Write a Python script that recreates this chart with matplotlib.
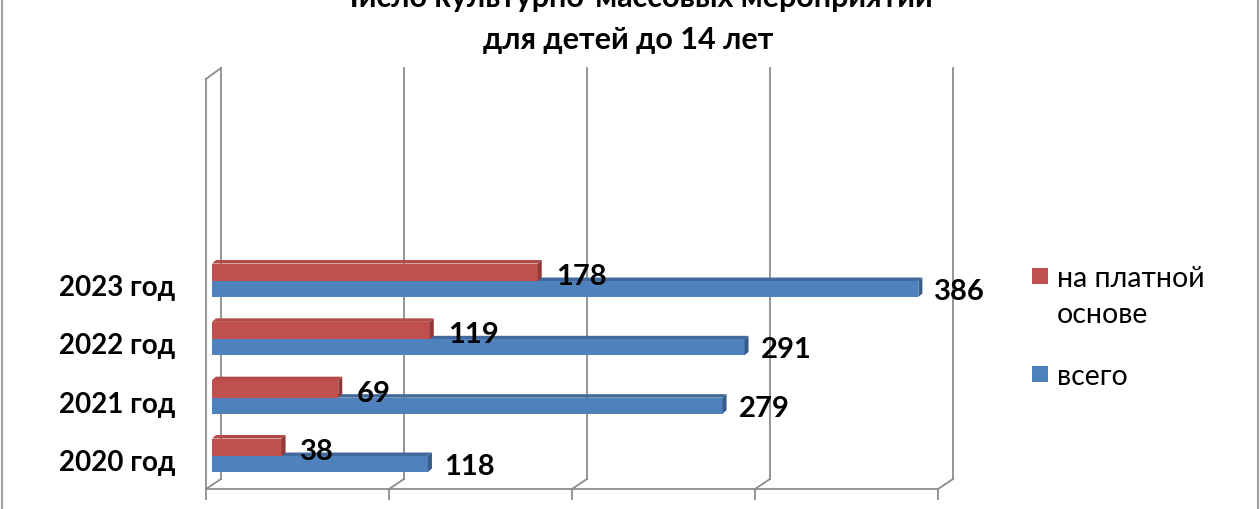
import matplotlib
matplotlib.use("Agg")
import matplotlib.pyplot as plt
from matplotlib.patches import Polygon, Rectangle
from matplotlib.lines import Line2D
import numpy as np

plt.rcParams['font.family'] = ['Lato', 'DejaVu Sans']

categories = ['2020 год', '2021 год', '2022 год', '2023 год']
total = [118, 279, 291, 386]
paid = [38, 69, 119, 178]
series_names = ['на платной\nоснове', 'всего']

RED = '#C0504D'
BLUE = '#4F81BD'
RED_TOP = '#B24A47'
RED_SIDE = '#8E3A38'
BLUE_TOP = '#41699B'
BLUE_SIDE = '#385D8A'
GRID = '#8C8C8C'

W, H = 1260, 510
fig = plt.figure(figsize=(12.6, 5.1), dpi=100)

def fx(px):
    return px / W

def fy(py):
    return 1 - py / H

ax_left, ax_right, ax_top, ax_bottom = 212, 944, 60, 505
ax = fig.add_axes([fx(ax_left), fy(ax_bottom), (ax_right - ax_left) / W, (ax_bottom - ax_top) / H])
ax.set_xlim(0, 400)
PX_PER_Y = 58.33
BASE_PY = 457  # pixel row of the first category boundary
def yd(py):
    return (BASE_PY - py) / PX_PER_Y
ax.set_ylim(yd(ax_bottom), yd(ax_top))
PX_PER_X = (ax_right - ax_left) / 400.0
def xd(px):
    return px / PX_PER_X

ax.axis('off')

# 3D-like walls and gridlines
back_dx = xd(9)
front_dx = xd(-6)
floor_back = yd(480)
floor_front = yd(490)
tick_end = yd(500)
top_back = yd(69)
top_front = yd(80)
lw = 1.3
def line(xs, ys):
    ax.add_line(Line2D(xs, ys, color=GRID, lw=lw, clip_on=False, zorder=1))

# left wall
line([front_dx, front_dx], [tick_end, top_front])
line([back_dx, back_dx], [floor_back, top_back])
line([front_dx, back_dx], [top_front, top_back])
line([back_dx, front_dx], [floor_back, floor_front])
# floor front edge
line([front_dx, 400 + front_dx], [floor_front, floor_front])
for v in [100, 200, 300, 400]:
    line([v + back_dx, v + back_dx], [floor_back, top_back])
    line([v + back_dx, v + front_dx], [floor_back, floor_front])
    line([v + front_dx, v + front_dx], [floor_front, tick_end])

pos = np.arange(len(categories))
red_h = 17.5 / PX_PER_Y
blue_h = 16 / PX_PER_Y
depth_x = xd(4)
depth_y = 3.5 / PX_PER_Y

# blue bars (below boundary)
ax.barh(pos, total, height=-blue_h, align='edge', color=BLUE, zorder=3, linewidth=0)
for p, v in zip(pos, total):
    top = p
    bot = p - blue_h
    ax.add_patch(Polygon([(0, top), (v, top), (v + depth_x, top + depth_y), (depth_x, top + depth_y)],
                         closed=True, facecolor=BLUE_TOP, edgecolor='none', zorder=2.5))
    ax.add_patch(Polygon([(v, bot), (v + depth_x, bot + depth_y), (v + depth_x, top + depth_y), (v, top)],
                         closed=True, facecolor=BLUE_SIDE, edgecolor='none', zorder=3))

# red bars (above boundary)
ax.barh(pos, paid, height=red_h, align='edge', color=RED, zorder=5, linewidth=0)
for p, v in zip(pos, paid):
    bot = p
    top = p + red_h
    ax.add_patch(Polygon([(0, top), (v, top), (v + depth_x, top + depth_y), (depth_x, top + depth_y)],
                         closed=True, facecolor=RED_TOP, edgecolor='none', zorder=5))
    ax.add_patch(Polygon([(v, bot), (v + depth_x, bot + depth_y), (v + depth_x, top + depth_y), (v, top)],
                         closed=True, facecolor=RED_SIDE, edgecolor='none', zorder=5))

# value labels
lab_fs = 21
for p, v in zip(pos, paid):
    ax.text(v + xd(18), p + 5 / PX_PER_Y, str(v), fontsize=lab_fs, fontweight='bold',
            ha='left', va='center', zorder=7)
for p, v in zip(pos, total):
    ax.text(v + xd(16), p - 10 / PX_PER_Y, str(v), fontsize=lab_fs, fontweight='bold',
            ha='left', va='center', zorder=7)

# category labels
for p, c in zip(pos, categories):
    ax.text(-xd(37), p - 6 / PX_PER_Y, c, fontsize=20, fontweight='bold',
            ha='right', va='center', zorder=7)

# legend (manual)
leg_fs = 20.5
fig.patches.append(Rectangle((fx(1032), fy(285)), 16 / W, 16 / H, transform=fig.transFigure,
                             facecolor=RED, edgecolor='none'))
fig.patches.append(Rectangle((fx(1032), fy(383)), 16 / W, 16 / H, transform=fig.transFigure,
                             facecolor=BLUE, edgecolor='none'))
fig.text(fx(1057), fy(279), 'на платной', fontsize=leg_fs, ha='left', va='center')
fig.text(fx(1057), fy(315), 'основе', fontsize=leg_fs, ha='left', va='center')
fig.text(fx(1057), fy(377), series_names[1], fontsize=leg_fs, ha='left', va='center')

# title
fig.text(fx(635), fy(7), 'Число культурно-массовых мероприятий', fontsize=22, fontweight='bold',
         ha='center', va='baseline')
fig.text(fx(628), fy(49), 'для детей до 14 лет', fontsize=22, fontweight='bold',
         ha='center', va='baseline')

# chart border (left and right edges visible)
fig.add_artist(Line2D([fx(1.5), fx(1.5)], [0, 1], color='#A0A0A0', lw=1.5, transform=fig.transFigure))
fig.add_artist(Line2D([fx(1257.5), fx(1257.5)], [0, 1], color='#A0A0A0', lw=1.5, transform=fig.transFigure))

fig.savefig('out.png', dpi=100)
